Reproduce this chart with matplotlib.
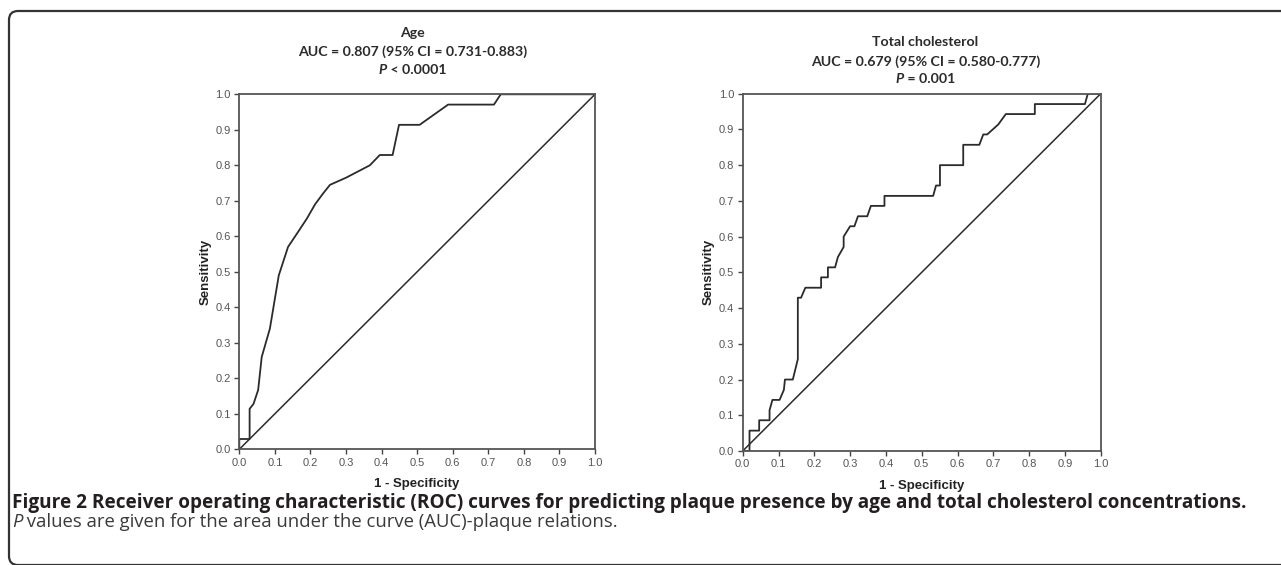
import matplotlib
matplotlib.use('Agg')
import matplotlib.pyplot as plt
from matplotlib.patches import FancyBboxPatch
from matplotlib.transforms import IdentityTransform
from matplotlib.offsetbox import TextArea, HPacker, AnnotationBbox

# ROC curve for age (1 - specificity, sensitivity)
age_fpr = [0, 0, 0.029, 0.029, 0.04, 0.053, 0.063, 0.086, 0.111, 0.137, 0.165, 0.19, 0.213,
           0.235, 0.255, 0.30, 0.367, 0.395, 0.431, 0.449, 0.507, 0.587, 0.716, 0.735, 1.0]
age_tpr = [0, 0.029, 0.029, 0.114, 0.128, 0.167, 0.26, 0.34, 0.49, 0.57, 0.612, 0.65, 0.69,
           0.72, 0.745, 0.765, 0.80, 0.829, 0.829, 0.914, 0.914, 0.971, 0.971, 1.0, 1.0]

# ROC curve for total cholesterol
chol_fpr = [0, 0.019, 0.019, 0.046, 0.046, 0.075, 0.075, 0.083, 0.103, 0.115, 0.118, 0.140,
            0.154, 0.154, 0.163, 0.175, 0.219, 0.219, 0.238, 0.238, 0.258, 0.266, 0.282,
            0.282, 0.30, 0.312, 0.322, 0.348, 0.358, 0.396, 0.396, 0.532, 0.540, 0.551,
            0.551, 0.616, 0.616, 0.661, 0.672, 0.683, 0.714, 0.735, 0.816, 0.816, 0.956,
            0.964, 1.0]
chol_tpr = [0, 0, 0.057, 0.057, 0.086, 0.086, 0.114, 0.143, 0.143, 0.171, 0.2, 0.2,
            0.257, 0.429, 0.429, 0.457, 0.457, 0.486, 0.486, 0.514, 0.514, 0.543, 0.571,
            0.60, 0.629, 0.629, 0.657, 0.657, 0.686, 0.686, 0.714, 0.714, 0.743, 0.743,
            0.80, 0.80, 0.857, 0.857, 0.886, 0.886, 0.914, 0.943, 0.943, 0.971, 0.971,
            1.0, 1.0]

ticks = [0.0, 0.1, 0.2, 0.3, 0.4, 0.5, 0.6, 0.7, 0.8, 0.9, 1.0]
tick_labels = ['0.0', '0.1', '0.2', '0.3', '0.4', '0.5', '0.6', '0.7', '0.8', '0.9', '1.0']

titles = ['Age', 'Total cholesterol']
auc_lines = ['AUC = 0.807 (95% CI = 0.731-0.883)', 'AUC = 0.679 (95% CI = 0.580-0.777)']
p_lines = [' < 0.0001', ' = 0.001']

caption1 = ('Figure 2 Receiver operating characteristic (ROC) curves for predicting plaque '
            'presence by age and total cholesterol concentrations.')
caption2 = ' values are given for the area under the curve (AUC)-plaque relations.'

W, H = 1281, 565
narrow = ['Liberation Sans Narrow', 'Liberation Sans', 'DejaVu Sans']
title_font = ['Lato', 'DejaVu Sans']
cap_font = ['Open Sans', 'DejaVu Sans']
ink = '#2b2b2b'

fig = plt.figure(figsize=(W / 100, H / 100), dpi=100)
renderer = fig.canvas.get_renderer()


def fit(t, width):
    # scale a text so it spans the given width in pixels
    w = t.get_window_extent(renderer).width
    t.set_fontsize(t.get_fontsize() * width / w)
    return t.get_fontsize()


def roc_panel(left, top, right, bottom, fpr, tpr):
    ax = fig.add_axes([left / W, 1 - bottom / H, (right - left) / W, (bottom - top) / H])
    ax.plot(fpr, tpr, color=ink, lw=1.3)
    ax.plot([0, 1], [0, 1], color=ink, lw=1.1)
    ax.set_xlim(0, 1)
    ax.set_ylim(0, 1)
    ax.set_xticks(ticks)
    ax.set_yticks(ticks)
    ax.set_xticklabels(tick_labels, family=narrow)
    ax.set_yticklabels(tick_labels, family=narrow)
    ax.tick_params(direction='out', length=3.5, width=1, color='#444',
                   labelsize=8, labelcolor='#555', pad=2.5)
    for s in ax.spines.values():
        s.set_color('#555')
        s.set_linewidth(1.3)
    ax.set_xlabel('1 - Specificity', fontweight='bold', fontsize=9.5, family=narrow, color='#222')
    ax.set_ylabel('Sensitivity', fontweight='bold', fontsize=9.5, family=narrow, color='#222')
    ax.xaxis.set_label_coords(0.5, -0.082)
    ax.yaxis.set_label_coords(-0.077, 0.5)
    return ax


roc_panel(239.3, 94.3, 595, 449.3, age_fpr, age_tpr)
roc_panel(742.7, 93.7, 1100.7, 451, chol_fpr, chol_tpr)

# panel titles
title_pos = [(412.5, 33, 52, 70), (925.5, 42, 62, 79)]
for i, (cx, y1, y2, y3) in enumerate(title_pos):
    t2 = fig.text(cx / W, 1 - y2 / H, auc_lines[i], ha='center', va='center',
                  fontweight='bold', fontsize=10, family=title_font, color=ink)
    fs = fit(t2, 230)
    fig.text(cx / W, 1 - y1 / H, titles[i], ha='center', va='center',
             fontweight='bold', fontsize=fs, family=title_font, color=ink)
    pa = TextArea('P', textprops=dict(fontweight='bold', style='italic', fontsize=fs,
                                      family=title_font, color=ink))
    pb = TextArea(p_lines[i], textprops=dict(fontweight='bold', fontsize=fs,
                                             family=title_font, color=ink))
    box = HPacker(children=[pa, pb], pad=0, sep=0, align='baseline')
    fig.add_artist(AnnotationBbox(box, (cx, H - y3), xycoords='figure pixels',
                                  box_alignment=(0.5, 0.5), frameon=False, pad=0))

# caption
c1 = fig.text(12 / W, 1 - 508 / H, caption1, ha='left', va='baseline',
              fontweight='bold', fontsize=12, family=cap_font, color='#231f20')
fit(c1, 1233)
tmp = fig.text(0, 0, 'P' + caption2, fontsize=12, family=cap_font)
fs2 = fit(tmp, 605)
tmp.remove()
ca = TextArea('P', textprops=dict(style='italic', fontsize=fs2, family=cap_font, color='#3a3a3a'))
cb = TextArea(caption2, textprops=dict(fontsize=fs2, family=cap_font, color='#3a3a3a'))
cbox = HPacker(children=[ca, cb], pad=0, sep=0, align='baseline')
fig.add_artist(AnnotationBbox(cbox, (12, H - 522), xycoords='figure pixels',
                              box_alignment=(0, 0.5), frameon=False, pad=0))

# rounded frame around the figure
frame = FancyBboxPatch((9, 0), 1320, 554, boxstyle='round,pad=0,rounding_size=9',
                       transform=IdentityTransform(), fill=False, ec='#333', lw=1.6)
fig.add_artist(frame)

fig.savefig('out.png', dpi=100)
